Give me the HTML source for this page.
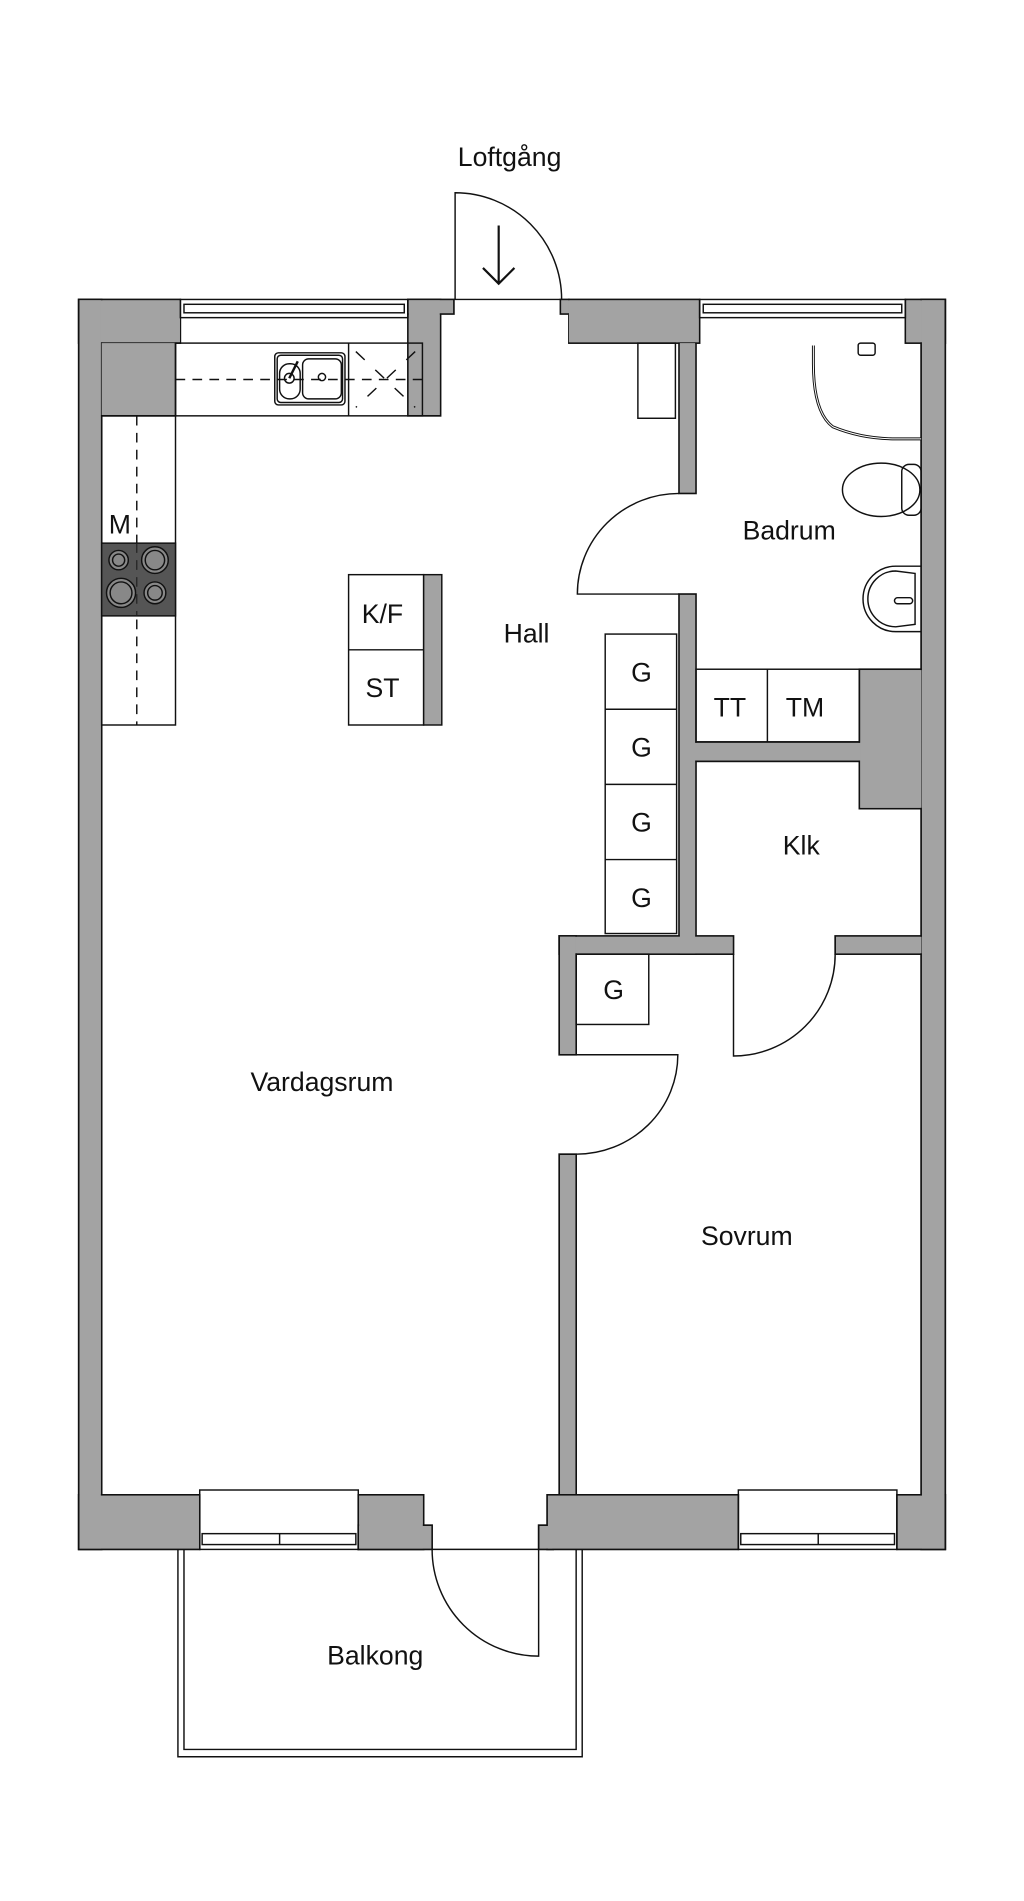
<!DOCTYPE html>
<html><head><meta charset="utf-8"><style>
html,body{margin:0;padding:0;background:#fff;}
svg{display:block;}
text{font-family:"Liberation Sans",sans-serif;fill:#111;}
</style></head><body>
<svg width="1024" height="1901" viewBox="0 0 846 1568" preserveAspectRatio="none" xmlns="http://www.w3.org/2000/svg">
<rect x="0" y="0" width="848" height="1574" fill="#fff"/>
<g id="walls" fill="#a3a3a3" stroke="#111" stroke-width="1.4">
<rect x="65" y="247" width="84" height="36"/>
<rect x="65" y="247" width="19" height="1031"/>
<rect x="84" y="283" width="61" height="60"/>
<rect x="337" y="247" width="27" height="96"/>
<rect x="337" y="247" width="38" height="12"/>
<rect x="463" y="247" width="7" height="12"/>
<rect x="470" y="247" width="108" height="36"/>
<rect x="748" y="247" width="33" height="36"/>
<rect x="761" y="247" width="20" height="1031"/>
<rect x="561" y="283" width="14" height="124"/>
<rect x="561" y="490" width="14" height="297"/>
<rect x="575" y="612" width="186" height="16"/>
<rect x="710" y="552" width="51" height="115"/>
<rect x="462" y="772" width="144" height="15"/>
<rect x="690" y="772" width="71" height="15"/>
<rect x="462" y="772" width="14" height="98"/>
<rect x="462" y="952" width="14" height="281"/>
<rect x="65" y="1233" width="100" height="45"/>
<rect x="296" y="1233" width="54" height="45"/>
<rect x="296" y="1258" width="61" height="20"/>
<rect x="445" y="1258" width="12" height="20"/>
<rect x="452" y="1233" width="158" height="45"/>
<rect x="741" y="1233" width="40" height="45"/>
</g>
<g fill="#a3a3a3" stroke="none">
<rect x="65.7" y="247.7" width="83" height="34.6"/>
<rect x="65.7" y="247.7" width="17.6" height="1029.6"/>
<rect x="84" y="283" width="60.3" height="59.3"/>
<rect x="337.7" y="247.7" width="25.6" height="94.6"/>
<rect x="337.7" y="247.7" width="36.6" height="10.6"/>
<rect x="463.7" y="247.7" width="6.6" height="10.6"/>
<rect x="470" y="247.7" width="107.3" height="34.6"/>
<rect x="748.7" y="247.7" width="31.6" height="34.6"/>
<rect x="761.7" y="247.7" width="18.6" height="1029.6"/>
<rect x="561.7" y="283" width="12.6" height="123.3"/>
<rect x="561.7" y="490.7" width="12.6" height="295.6"/>
<rect x="574" y="612.7" width="187" height="14.6"/>
<rect x="710.7" y="552.7" width="50.6" height="113.6"/>
<rect x="462.7" y="772.7" width="142.6" height="13.6"/>
<rect x="690.7" y="772.7" width="70.6" height="13.6"/>
<rect x="462.7" y="772.7" width="12.6" height="96.6"/>
<rect x="462.7" y="952.7" width="12.6" height="279.6"/>
<rect x="65.7" y="1233.7" width="99" height="43.6"/>
<rect x="296.7" y="1233.7" width="52.6" height="43.6"/>
<rect x="296.7" y="1258.7" width="59.6" height="18.6"/>
<rect x="445.7" y="1258.7" width="10.6" height="18.6"/>
<rect x="452.7" y="1233.7" width="156.6" height="43.6"/>
<rect x="741.7" y="1233.7" width="38.6" height="43.6"/>
</g>
<g fill="none" stroke="#111" stroke-width="1.2">
<rect x="149" y="247" width="188" height="15"/>
<rect x="152" y="251" width="182" height="7"/>
<line x1="149" y1="283" x2="145" y2="283"/>
<rect x="578" y="247" width="170" height="15"/>
<rect x="581" y="251" width="164" height="7"/>
<rect x="165" y="1229" width="131" height="49"/>
<rect x="167" y="1265" width="127" height="9"/>
<line x1="231" y1="1265" x2="231" y2="1274"/>
<rect x="610" y="1229" width="131" height="49"/>
<rect x="612" y="1265" width="127" height="9"/>
<line x1="676" y1="1265" x2="676" y2="1274"/>
<line x1="357" y1="1278" x2="445" y2="1278"/>
<line x1="375" y1="247" x2="463" y2="247"/>
<rect x="145" y="283" width="204" height="60"/>
<line x1="288" y1="283" x2="288" y2="343"/>
<line x1="145" y1="313" x2="349" y2="313" stroke-dasharray="8,6"/>
<line x1="294" y1="290" x2="343" y2="336" stroke-dasharray="10,12"/>
<line x1="343" y1="290" x2="294" y2="336" stroke-dasharray="10,12"/>
<rect x="84" y="343" width="61" height="255"/>
<line x1="113" y1="343" x2="113" y2="598" stroke-dasharray="8,6"/>
<rect x="227" y="291" width="58" height="43" rx="3"/>
<rect x="229" y="293" width="54" height="39" rx="3"/>
<rect x="231" y="300" width="17" height="29" rx="8"/>
<rect x="250" y="296" width="32" height="33" rx="5"/>
<circle cx="266" cy="311" r="3"/>
<circle cx="239" cy="312" r="4"/>
<line x1="239" y1="312" x2="246" y2="298" stroke-width="2"/>
<rect x="288" y="474" width="62" height="124"/>
<line x1="288" y1="536" x2="350" y2="536"/>
<rect x="350" y="474" width="15" height="124" fill="#a3a3a3"/>
<rect x="527" y="283" width="31" height="62"/>
<rect x="500" y="523" width="59" height="247"/>
<line x1="500" y1="585" x2="559" y2="585"/>
<line x1="500" y1="647" x2="559" y2="647"/>
<line x1="500" y1="709" x2="559" y2="709"/>
<rect x="476" y="787" width="60" height="58"/>
<rect x="575" y="552" width="135" height="60"/>
<line x1="634" y1="552" x2="634" y2="612"/>
<path d="M376 247 L376 159 A88 88 0 0 1 464 247"/>
<path d="M412 186 L412 234 M399 221 L412 234 L425 221" stroke-width="1.8"/>
<path d="M561 407 A84 83 0 0 0 477 490 L561 490"/>
<path d="M606 787 L606 871 A84 84 0 0 0 690 787"/>
<path d="M476 870 L560 870 A84 82 0 0 1 476 952"/>
<path d="M357 1278 A88 88 0 0 0 445 1366 L445 1278"/>
<path d="M147 1278 L147 1449 L481 1449 L481 1278"/>
<path d="M152 1278 L152 1443 L476 1443 L476 1278"/>
<path d="M672 285 L672 300 Q672 340 688 352 Q712 362 740 362 L761 362" stroke-width="2.4"/>
<path d="M672 285 L672 300 Q672 340 688 352 Q712 362 740 362 L761 362" stroke="#fff" stroke-width="0.8"/>
<rect x="709" y="283" width="14" height="10" rx="2"/>
<ellipse cx="728" cy="404" rx="32" ry="22"/>
<rect x="745" y="383" width="16" height="42" rx="6"/>
<path d="M761 467 L740 467 A26 26 0 0 0 740 521 L761 521"/>
<path d="M756 473 L740 471 A22 22 0 0 0 740 517 L756 515 Z"/>
<rect x="739" y="493" width="15" height="5" rx="2.5"/>
</g>
<rect x="84" y="448" width="61" height="60" fill="#555" stroke="#111" stroke-width="1.2"/>
<g fill="#888" stroke="#111" stroke-width="1.2">
<circle cx="98" cy="462" r="8"/><circle cx="98" cy="462" r="5"/>
<circle cx="128" cy="462" r="11"/><circle cx="128" cy="462" r="8"/>
<circle cx="100" cy="489" r="12"/><circle cx="100" cy="489" r="9"/>
<circle cx="128" cy="489" r="9"/><circle cx="128" cy="489" r="6"/>
</g>
<line x1="113" y1="448" x2="113" y2="508" stroke="#222" stroke-dasharray="8,6"/>
<g font-size="22" text-anchor="middle">
<text x="421" y="137">Loftgång</text>
<text x="652" y="445">Badrum</text>
<text x="435" y="530">Hall</text>
<text x="266" y="900">Vardagsrum</text>
<text x="662" y="705">Klk</text>
<text x="617" y="1027">Sovrum</text>
<text x="310" y="1373">Balkong</text>
<text x="316" y="514">K/F</text>
<text x="316" y="575">ST</text>
<text x="530" y="562">G</text>
<text x="530" y="624">G</text>
<text x="530" y="686">G</text>
<text x="530" y="748">G</text>
<text x="507" y="824">G</text>
<text x="603" y="591">TT</text>
<text x="665" y="591">TM</text>
<text x="99" y="440">M</text>
</g>
</svg>
</body></html>
